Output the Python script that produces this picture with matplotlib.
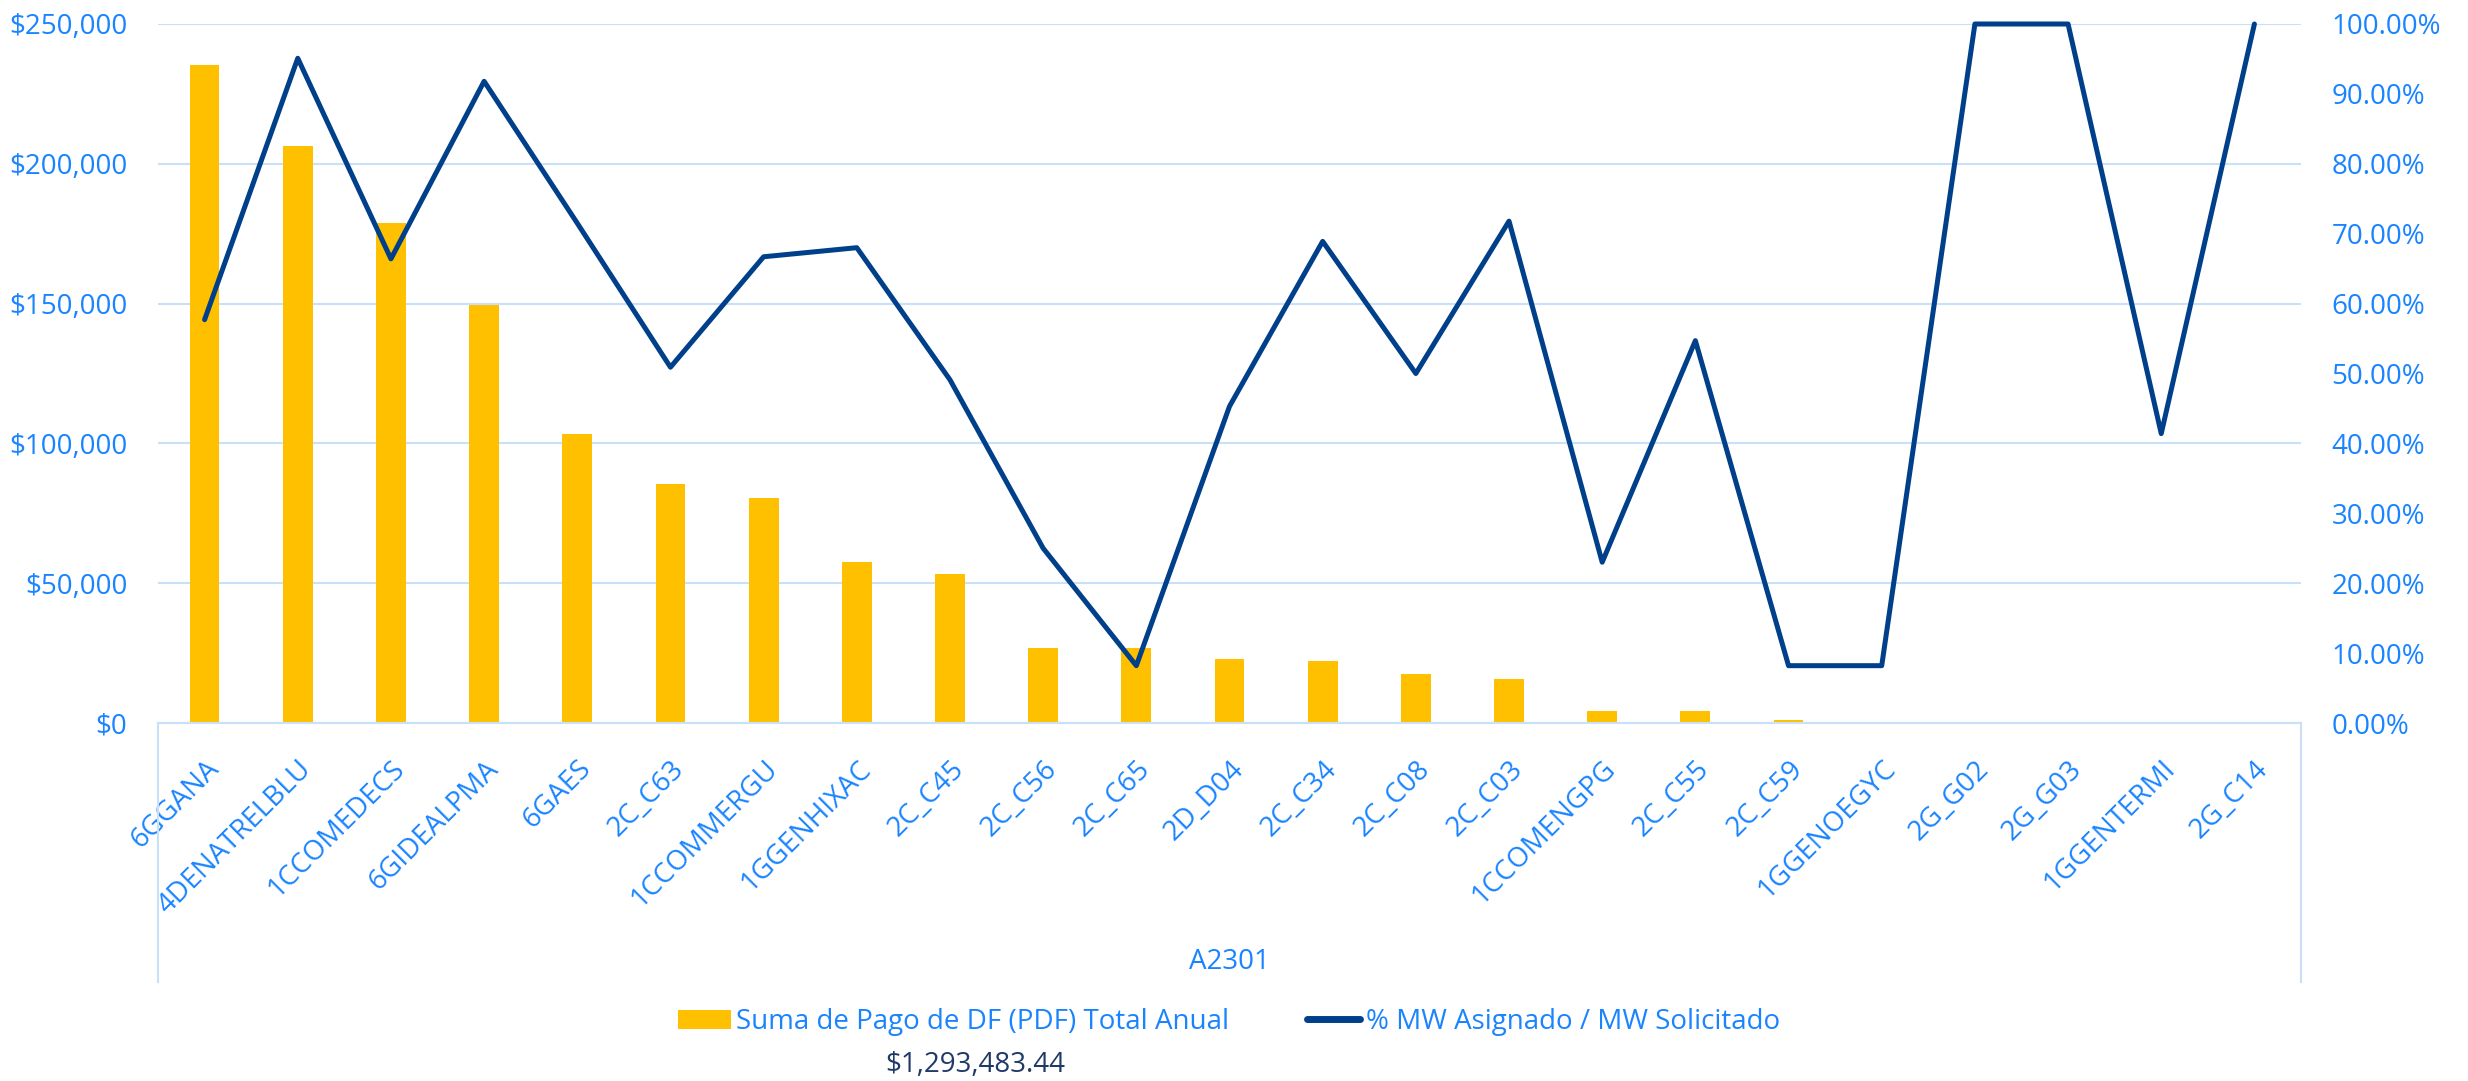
import numpy as np
import matplotlib.pyplot as plt
from matplotlib.patches import Patch
from matplotlib.lines import Line2D

plt.rcParams['font.family'] = ['Open Sans', 'DejaVu Sans']

# Data
plantas = ['6GGANA', '4DENATRELBLU', '1CCOMEDECS', '6GIDEALPMA', '6GAES', '2C_C63',
           '1CCOMMERGU', '1GGENHIXAC', '2C_C45', '2C_C56', '2C_C65', '2D_D04',
           '2C_C34', '2C_C08', '2C_C03', '1CCOMENGPG', '2C_C55', '2C_C59',
           '1GGENOEGYC', '2G_G02', '2G_G03', '1GGENTERMI', '2G_C14']
pago_df = [235500, 206500, 179000, 149500, 103500, 85500, 80500, 57600, 53400,
           26900, 26900, 22800, 22000, 17700, 15600, 4200, 4200, 1200,
           0, 0, 0, 0, 0]
pct_mw = [0.577, 0.951, 0.664, 0.918, 0.715, 0.509, 0.667, 0.680, 0.491, 0.250,
          0.082, 0.453, 0.689, 0.500, 0.718, 0.230, 0.547, 0.082, 0.082,
          1.0, 1.0, 0.414, 1.0]
total = '$1,293,483.44'
grupo = 'A2301'

bar_color = '#FFC000'
line_color = '#003F8A'
text_color = '#1A84FF'
grid_color = '#C8E0F8'

fig = plt.figure(figsize=(24.68, 10.81), dpi=100)
ax = fig.add_axes([158 / 2468, 1 - 723 / 1081, (2301 - 158) / 2468, (723 - 24) / 1081])

x = np.arange(len(plantas))
ax.bar(x, pago_df, width=0.32, color=bar_color, zorder=2)
ax.set_xlim(-0.5, len(plantas) - 0.5)
ax.set_ylim(0, 250000)
ax.set_yticks(np.arange(0, 250001, 50000))
ax.set_yticklabels(['${:,.0f}'.format(v) for v in np.arange(0, 250001, 50000)])
ax.grid(axis='y', color=grid_color, lw=1.5, zorder=0)
ax.set_axisbelow(True)

for s in ['top', 'left', 'right']:
    ax.spines[s].set_visible(False)
ax.spines['bottom'].set_color(grid_color)
ax.spines['bottom'].set_linewidth(1.5)

ax.set_xticks(x)
ax.set_xticklabels(plantas, rotation=45, ha='right', va='top', rotation_mode='anchor')
ax.tick_params(axis='x', length=0, pad=23, labelsize=20, labelcolor=text_color)
ax.tick_params(axis='y', length=0, pad=22, labelsize=20, labelcolor=text_color)

# box lines around the category axis
for xa in [0, 1]:
    ax.plot([xa, xa], [0, -0.3705], transform=ax.transAxes, color=grid_color,
            lw=1.5, clip_on=False)

ax2 = ax.twinx()
ax2.plot(x, pct_mw, color=line_color, lw=3.6, solid_capstyle='round', zorder=3,
         clip_on=False)
ax2.set_ylim(0, 1)
ax2.set_yticks(np.arange(0, 1.001, 0.1))
ax2.set_yticklabels(['{:.2f}%'.format(v * 100) for v in np.arange(0, 1.001, 0.1)])
ax2.tick_params(axis='y', length=0, pad=22, labelsize=20, labelcolor=text_color)
for s in ['top', 'left', 'right', 'bottom']:
    ax2.spines[s].set_visible(False)

fig.text(1229 / 2468, 1 - 962 / 1081, grupo, ha='center', va='center',
         fontsize=20, color=text_color)

handles = [Patch(facecolor=bar_color, edgecolor='none'),
           Line2D([0], [0], color=line_color, lw=5, solid_capstyle='round')]
labels = ['Suma de Pago de DF (PDF) Total Anual', '% MW Asignado / MW Solicitado']
leg = fig.legend(handles, labels, loc='center', ncol=2,
                 bbox_to_anchor=(1229 / 2468, 1 - 1022 / 1081), frameon=False,
                 fontsize=20, handlelength=1.9, handletextpad=0.2,
                 columnspacing=2.8, labelcolor=text_color)

fig.text(975 / 2468, 1 - 1065 / 1081, total, ha='center', va='center',
         fontsize=20, color='#1F3A68')

fig.savefig('out.png', dpi=100)
